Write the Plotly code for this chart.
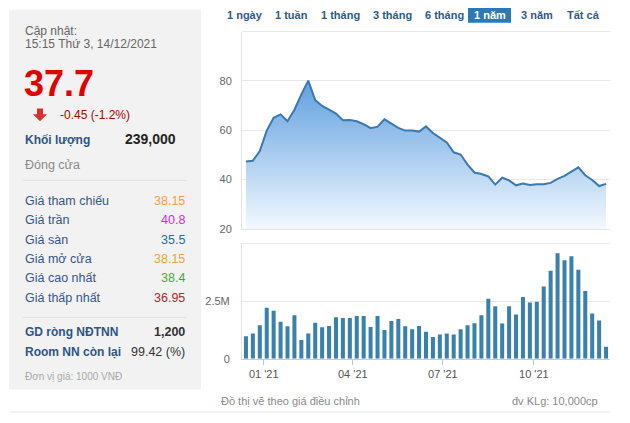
import plotly.graph_objects as go

W, H = 630, 423
FONT = "Liberation Sans, Arial, sans-serif"

# ---------------- data ----------------
weeks = [
    "2020-12-14", "2020-12-21", "2020-12-28", "2021-01-04", "2021-01-11", "2021-01-18", "2021-01-25",
    "2021-02-01", "2021-02-08", "2021-02-15", "2021-02-22", "2021-03-01", "2021-03-08", "2021-03-15",
    "2021-03-22", "2021-03-29", "2021-04-05", "2021-04-12", "2021-04-19", "2021-04-26", "2021-05-03",
    "2021-05-10", "2021-05-17", "2021-05-24", "2021-05-31", "2021-06-07", "2021-06-14", "2021-06-21",
    "2021-06-28", "2021-07-05", "2021-07-12", "2021-07-19", "2021-07-26", "2021-08-02", "2021-08-09",
    "2021-08-16", "2021-08-23", "2021-08-30", "2021-09-06", "2021-09-13", "2021-09-20", "2021-09-27",
    "2021-10-04", "2021-10-11", "2021-10-18", "2021-10-25", "2021-11-01", "2021-11-08", "2021-11-15",
    "2021-11-22", "2021-11-29", "2021-12-06", "2021-12-13",
]
price = [
    47.3, 47.6, 51.5, 59.8, 65.0, 66.4, 63.6, 68.3, 74.5, 80.1,
    72.2, 69.8, 68.3, 66.7, 64.0, 64.1, 63.6, 62.4, 60.8, 61.4,
    64.4, 62.8, 60.9, 59.8, 59.8, 59.4, 61.5, 58.8, 56.8, 55.0,
    51.0, 50.1, 46.0, 42.8, 42.2, 41.2, 37.9, 40.7, 39.6, 37.6,
    38.3, 37.7, 38.0, 38.0, 38.6, 40.2, 41.4, 43.3, 44.9, 41.7,
    39.8, 37.3, 38.2,
]
volume_m = [
    0.99, 1.11, 1.47, 2.23, 2.10, 1.62, 1.42, 1.91, 0.82, 1.11,
    1.58, 1.38, 1.44, 1.82, 1.78, 1.78, 1.87, 1.87, 1.39, 1.87,
    1.26, 1.65, 1.74, 1.42, 1.29, 1.44, 1.18, 0.95, 1.06, 1.11,
    1.06, 1.29, 1.47, 1.55, 1.90, 2.63, 2.30, 1.54, 2.30, 1.94,
    2.70, 2.46, 2.50, 3.16, 3.85, 4.61, 4.31, 4.48, 3.89, 2.96,
    1.98, 1.68, 0.53,
]
x_tick_vals = ["2021-01-01", "2021-04-01", "2021-07-01", "2021-10-01"]
x_tick_text = ["01 '21", "04 '21", "07 '21", "10 '21"]
price_ticks = [20, 40, 60, 80]
vol_tick_vals = [0, 2.5]
vol_tick_text = ["0", "2.5M"]

tabs = ["1 ngày", "1 tuần", "1 tháng", "3 tháng", "6 tháng", "1 năm", "3 năm", "Tất cả"]
tab_x = [225, 273, 319, 371, 423, 472, 519, 565]
active_tab = "1 năm"

stat_labels = ["Giá tham chiếu", "Giá trần", "Giá sàn", "Giá mở cửa", "Giá cao nhất", "Giá thấp nhất"]
stat_values = ["38.15", "40.8", "35.5", "38.15", "38.4", "36.95"]
stat_colors = ["#f2a33a", "#e01fe0", "#2a6d9a", "#f2a33a", "#3aae3a", "#b3262c"]

# ---------------- helpers ----------------
def X(p):
    return p / W

def Y(p):
    return 1 - p / H

annotations = []
shapes = []

def txt(x, y, s, size=13, color="#333", anchor="left", bold=False):
    annotations.append(dict(
        x=X(x), y=Y(y), xref="paper", yref="paper", text=("<b>%s</b>" % s) if bold else s,
        showarrow=False, xanchor=anchor, yanchor="middle",
        font=dict(family=FONT, size=size, color=color)))

def hline(x0, x1, y, color, width=1):
    shapes.append(dict(type="line", xref="paper", yref="paper", x0=X(x0), x1=X(x1),
                       y0=Y(y), y1=Y(y), line=dict(color=color, width=width), layer="below"))

# ---------------- figure ----------------
fig = go.Figure()

fig.add_trace(go.Scatter(
    x=weeks, y=price, mode="lines", xaxis="x", yaxis="y",
    line=dict(color="#3b79ae", width=2),
    fill="tozeroy",
    fillgradient=dict(type="vertical", start=20, stop=82,
                      colorscale=[[0, "rgba(246,250,255,1)"], [1, "rgba(92,157,221,1)"]]),
    hoverinfo="skip", showlegend=False))

fig.add_trace(go.Bar(
    x=weeks, y=volume_m, xaxis="x2", yaxis="y2",
    marker=dict(color="#3a80ac", line=dict(width=0)),
    hoverinfo="skip", showlegend=False))

# left info panel
shapes.append(dict(type="rect", xref="paper", yref="paper", x0=X(9), x1=X(201), y0=Y(395), y1=Y(10),
                   fillcolor="#f2f2f2", line=dict(width=0), layer="below"))
hline(23, 187, 183, "#e2e2e2")
hline(23, 187, 322, "#e2e2e2")
hline(10, 610, 418, "#e6e6e6")

txt(23, 31, "Cập nhật:", 12, "#666")
txt(23, 45, "15:15 Thứ 3, 14/12/2021", 12, "#666")
txt(22, 85, "37.7", 36, "#e00000", bold=True)

# red down arrow
shapes.append(dict(type="path", xref="paper", yref="paper",
                   path="M %f,%f L %f,%f L %f,%f L %f,%f L %f,%f L %f,%f L %f,%f Z" % (
                       X(37), Y(110), X(43), Y(110), X(43), Y(116), X(47), Y(116),
                       X(40), Y(123), X(33), Y(116), X(37), Y(116)),
                   fillcolor="#d8312b", line=dict(width=0)))
txt(58, 117, "-0.45 (-1.2%)", 12, "#b30000")
txt(23, 142, "Khối lượng", 12, "#2f5486", bold=True)
txt(178, 141, "239,000", 14, "#222", anchor="right", bold=True)
txt(23, 167, "Đóng cửa", 12.5, "#8a8a8a")

stat_y = [204, 223, 243, 263, 282, 302]
for lab, val, col, yy in zip(stat_labels, stat_values, stat_colors, stat_y):
    txt(23, yy, lab, 12.5, "#35558a")
    txt(187, yy, val, 12.5, col, anchor="right")

txt(23, 337, "GD ròng NĐTNN", 12, "#2f5486", bold=True)
txt(187, 337, "1,200", 12.5, "#333", anchor="right", bold=True)
txt(23, 357, "Room NN còn lại", 12, "#2f5486", bold=True)
txt(187, 357, "99.42 (%)", 12.5, "#333", anchor="right")
txt(23, 382, "Đơn vị giá: 1000 VNĐ", 10, "#a8a8a8")

# tabs
for t, tx in zip(tabs, tab_x):
    if t == active_tab:
        shapes.append(dict(type="rect", xref="paper", yref="paper", x0=X(468), x1=X(511),
                           y0=Y(23), y1=Y(8), fillcolor="#2d79b8", line=dict(width=0)))
        txt(489.5, 15.5, t, 11, "#ffffff", anchor="center", bold=True)
    else:
        txt(tx, 15.5, t, 11, "#2f5a8a", bold=True)

# frame lines for the chart tops
hline(242, 610, 32, "#e8e8e8")
hline(242, 610, 247, "#e8e8e8")

# bottom notes
txt(219, 407, "Đồ thị vẽ theo giá điều chỉnh", 11, "#8a8a8a")
txt(600, 407, "đv KLg: 10,000cp", 11, "#8a8a8a", anchor="right")

xr = ["2020-12-10", "2021-12-17"]
axis_font = dict(family=FONT, size=11, color="#666")

fig.update_layout(
    width=W, height=H, margin=dict(l=0, r=0, t=0, b=0),
    paper_bgcolor="white", plot_bgcolor="rgba(0,0,0,0)",
    bargap=0.42, showlegend=False,
    xaxis=dict(domain=[X(242), X(610)], anchor="y", type="date", range=xr,
               showticklabels=False, showgrid=False, zeroline=False,
               showline=True, linecolor="#e3e3e3", linewidth=1, ticks=""),
    yaxis=dict(domain=[Y(232), Y(32)], anchor="x", range=[20, 100], tickvals=price_ticks,
               showgrid=True, gridcolor="#e8e8e8", zeroline=False,
               showline=True, linecolor="#e3e3e3", ticks="", ticklabelstandoff=7,
               tickfont=axis_font),
    xaxis2=dict(domain=[X(242), X(610)], anchor="y2", type="date", range=xr,
                tickvals=x_tick_vals, ticktext=x_tick_text, tickfont=dict(family=FONT, size=11, color="#555"),
                ticks="outside", ticklen=5, tickcolor="#a9c9e8", tickwidth=1,
                showgrid=False, zeroline=False, showline=True, linecolor="#cccccc"),
    yaxis2=dict(domain=[Y(364), Y(247)], anchor="x2", range=[0, 5.04],
                tickvals=vol_tick_vals, ticktext=vol_tick_text, tickfont=axis_font,
                showgrid=True, gridcolor="#e8e8e8", zeroline=False,
                showline=True, linecolor="#e3e3e3", ticks="", ticklabelstandoff=9),
    annotations=annotations, shapes=shapes,
)

fig.write_html("out.html")
